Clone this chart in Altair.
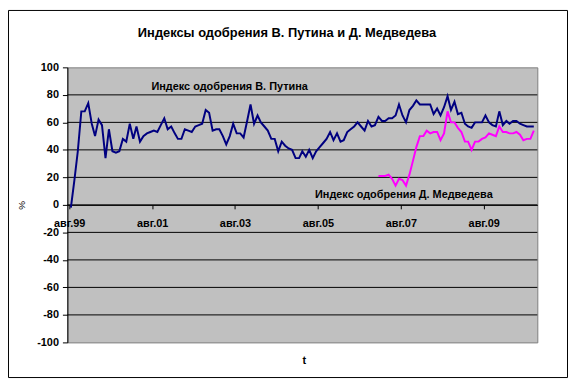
import altair as alt
import pandas as pd

FONT = "Liberation Sans"

title_text = "Индексы одобрения В. Путина и Д. Медведева"

# Monthly approval values
putin_start = "1999-08-01"
putin = [
    -2, 18, 39, 68, 68, 74, 59, 50, 62, 58,
    34, 55, 39, 38, 39, 48, 46, 59, 48, 57,
    46, 50, 52, 53, 54, 53, 58, 63, 55, 57,
    52, 48, 48, 55, 54, 53, 57, 58, 59, 69,
    67, 54, 55, 55, 50, 44, 50, 59, 52, 52,
    49, 61, 73, 59, 65, 60, 57, 54, 48, 48,
    39, 46, 43, 41, 40, 34, 34, 39, 35, 40,
    34, 39, 42, 45, 48, 53, 47, 52, 46, 47,
    53, 55, 57, 60, 57, 54, 61, 57, 58, 64,
    61, 61, 63, 63, 65, 73, 65, 60, 69, 72,
    76, 73, 73, 73, 73, 66, 70, 65, 71, 79,
    69, 75, 66, 67, 59, 57, 56, 60, 60, 60,
    65, 60, 58, 57, 68, 58, 61, 59, 61, 61,
    59, 58, 57, 57, 57,
]

medvedev_start = "2007-01-01"
medvedev = [
    21, 21, 21, 22, 19, 14, 19, 18, 14, 22,
    32, 42, 50, 50, 54, 52, 53, 53, 47, 52,
    68, 60, 60, 56, 53, 46, 46, 40, 46, 46,
    48, 49, 52, 51, 50, 57, 53, 53, 52, 52,
    53, 51, 47, 48, 48, 54,
]

series_names = ["Путин", "Медведев"]
series_colors = ["#000080", "#FF00FF"]

label_texts = ["Индекс одобрения В. Путина", "Индекс одобрения Д. Медведева"]
label_dates = ["2001-07-26", "2005-07-06"]
label_values = [86, 7]

tick_years = [1999, 2001, 2003, 2005, 2007, 2009]
y_ticks = list(range(-100, 101, 20))
grid_values = [-80, -60, -40, -20, 0, 20, 40, 60, 80]

mid_month = pd.Timedelta(days=15)

df = pd.concat([
    pd.DataFrame({
        "date": pd.date_range(putin_start, periods=len(putin), freq="MS") + mid_month,
        "value": putin,
        "series": series_names[0],
    }),
    pd.DataFrame({
        "date": pd.date_range(medvedev_start, periods=len(medvedev), freq="MS") + mid_month,
        "value": medvedev,
        "series": series_names[1],
    }),
], ignore_index=True)

labels_df = pd.DataFrame({
    "date": pd.to_datetime(label_dates),
    "value": label_values,
    "text": label_texts,
})

grid_df = pd.DataFrame({"value": grid_values})

x_scale = alt.Scale(domain=[alt.DateTime(year=1999, month=7, date=16),
                            alt.DateTime(year=2010, month=11, date=16)])
y_scale = alt.Scale(domain=[-100, 100], nice=False)

x_axis = alt.Axis(
    values=[alt.DateTime(year=y, month=8, date=1) for y in tick_years],
    labelExpr="'авг.' + timeFormat(datum.value, '%y')",
    offset=-139,
    grid=False,
    domainColor="black",
    tickColor="black",
    tickSize=4,
    labelPadding=9,
    labelFont=FONT,
    labelFontSize=11,
    labelFontWeight="bold",
    labelColor="black",
    labelOverlap=False,
    labelFlush=False,
    labelBound=False,
    title="t",
    titleFont=FONT,
    titleFontSize=11,
    titleFontWeight="bold",
    titleColor="black",
    titleX=239,
    titleY=157,
    titleBaseline="middle",
)

y_axis = alt.Axis(
    values=y_ticks,
    labelExpr="'' + datum.value",
    grid=False,
    domainColor="black",
    tickColor="black",
    tickSize=5,
    labelPadding=4,
    labelFont=FONT,
    labelFontSize=11,
    labelFontWeight="bold",
    labelColor="black",
    title="%",
    titleFont=FONT,
    titleFontSize=10,
    titleFontWeight="normal",
    titleColor="black",
    titleAngle=270,
    titleX=-46,
    titleY=139,
    titleAlign="center",
    titleBaseline="middle",
)

y_enc = alt.Y("value:Q", scale=y_scale, axis=y_axis)
x_enc = alt.X("date:T", scale=x_scale, axis=x_axis)

one_row = alt.Data(values=[{"a": 1}])

frame = alt.Chart(one_row).mark_rect(
    fillOpacity=0, stroke="black", strokeWidth=1
).encode(
    x=alt.value(-59.5), x2=alt.value(505.5),
    y=alt.value(-57.5), y2=alt.value(313.5),
)

title = alt.Chart(one_row).mark_text(
    align="center", baseline="alphabetic", font=FONT, fontSize=13,
    fontWeight="bold", color="black"
).encode(x=alt.value(222), y=alt.value(-31), text=alt.value(title_text))

grid = alt.Chart(grid_df).mark_rule(color="black", strokeWidth=1).encode(y=y_enc)

lines = alt.Chart(df).mark_line(strokeWidth=2).encode(
    x=x_enc,
    y=y_enc,
    color=alt.Color("series:N", scale=alt.Scale(domain=series_names, range=series_colors), legend=None),
)

texts = alt.Chart(labels_df).mark_text(
    align="left", baseline="middle", font=FONT, fontSize=11, fontWeight="bold", color="black"
).encode(x=x_enc, y=y_enc, text="text:N")

chart = alt.layer(frame, title, grid, lines, texts).properties(
    width=475,
    height=278,
    padding={"left": 60, "top": 58, "right": 31, "bottom": 36},
    autosize=alt.AutoSizeParams(type="none"),
    background="white",
).configure_view(
    fill="#C0C0C0", stroke="#808080", strokeWidth=1
)

chart.save("out.html", embed_options={"renderer": "svg", "actions": False})
